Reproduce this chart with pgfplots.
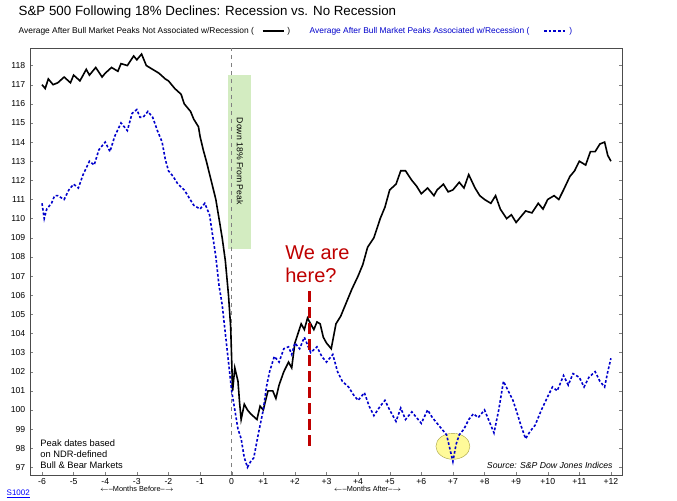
\documentclass[border=0pt]{standalone}
\usepackage{pgfplots}
\pgfplotsset{compat=1.18}
\usepackage{fontspec}
\setmainfont{Liberation Sans}
\begin{document}
\begin{tikzpicture}
\useasboundingbox (0,0) rectangle (507.75pt,375pt);
\fill[white] (0,0) rectangle (507.75pt,375pt);
\node[anchor=west,font=\fontsize{10}{12}\selectfont] at (10.5pt,366pt) {S\&P 500 Following 18\% Declines: Recession vs. No Recession};
\node[anchor=west,font=\fontsize{6.3}{8}\selectfont] at (10.5pt,351.75pt) {Average After Bull Market Peaks Not Associated w/Recession (};
\draw[black,line width=1.2pt] (197pt,351.75pt)--(213pt,351.75pt);
\node[anchor=west,font=\fontsize{6.3}{8}\selectfont] at (212pt,351.75pt) {)};
\node[anchor=west,font=\fontsize{6.3}{8}\selectfont,blue!80!black] at (228.75pt,351.75pt) {Average After Bull Market Peaks Associated w/Recession (};
\draw[blue!80!black,line width=1.2pt,dash pattern=on 2pt off 1.5pt] (408pt,351.75pt)--(424pt,351.75pt);
\node[anchor=west,font=\fontsize{6.3}{8}\selectfont,blue!80!black] at (423.5pt,351.75pt) {)};
\begin{axis}[at={(22.5pt,18.75pt)},anchor=south west,scale only axis,
 width=444pt,height=320pt,
 xmin=-6.38,xmax=12.35,ymin=96.6,ymax=118.9,
 xtick={-6,-5,...,12},
 xticklabels={-6,-5,-4,-3,-2,-1,0,+1,+2,+3,+4,+5,+6,+7,+8,+9,+10,+11,+12},
 ytick={97,98,...,118},
 yticklabel pos=left,
 tick label style={font=\fontsize{6.5}{8}\selectfont},
 xticklabel style={yshift=1pt},
 /pgf/number format/assume math mode=true,
 xtick pos=bottom, tick align=inside,
 major tick length=2pt,
 axis line style={black!70},
 clip=false]
\fill[green!40!olive!30,opacity=0.8] (axis cs:-0.1,108.4) rectangle (axis cs:0.62,117.5);
\node[rotate=-90,font=\fontsize{6.5}{8}\selectfont] at (axis cs:0.26,113.0) {Down 18\% From Peak};
\draw[gray,dashed] (axis cs:0,96.6)--(axis cs:0,118.9);
\fill[yellow!40] (axis cs:7.0,98.1) ellipse [x radius=12.75pt, y radius=9.75pt];
\draw[yellow!60!black,line width=0.3pt] (axis cs:7.0,98.1) ellipse [x radius=12.75pt, y radius=9.75pt];
\addplot[black,line width=1.2pt] coordinates {
(-6,117.0)(-5.9,116.8)(-5.8,117.3)(-5.65,117.0)(-5.5,117.1)(-5.3,117.4)(-5.1,117.1)(-5,117.5)(-4.8,117.2)(-4.6,117.8)(-4.5,117.5)(-4.3,117.9)(-4.1,117.4)(-4,117.6)(-3.8,117.9)(-3.6,117.7)(-3.5,118.1)(-3.3,118.0)(-3.1,118.5)(-3,118.3)(-2.85,118.6)(-2.7,118.0)(-2.5,117.8)(-2.3,117.6)(-2.1,117.3)(-2,117.2)(-1.8,116.8)(-1.6,116.5)(-1.5,116.0)(-1.3,115.6)(-1.2,115.2)(-1.05,114.8)(-1,114.3)(-0.9,113.6)(-0.8,113.0)(-0.65,112.0)(-0.5,111.0)(-0.4,110.0)(-0.3,109.0)(-0.2,107.8)(-0.1,106.0)(-0.03,104.3)(0.03,101.0)(0.1,102.2)(0.2,101.5)(0.25,100.4)(0.3,99.5)(0.4,100.3)(0.5,100.0)(0.6,99.8)(0.8,99.5)(0.9,100.2)(1,100.0)(1.15,101.0)(1.3,101.0)(1.4,100.6)(1.5,101.3)(1.65,102.0)(1.8,102.5)(1.9,102.2)(2,103.5)(2.1,104.0)(2.2,104.5)(2.3,104.2)(2.4,104.8)(2.5,104.5)(2.6,104.2)(2.7,104.6)(2.8,104.5)(2.9,103.8)(3,103.5)(3.15,103.2)(3.3,104.5)(3.45,104.9)(3.6,105.5)(3.8,106.3)(4,107.0)(4.15,107.6)(4.3,108.5)(4.5,109.0)(4.7,110.0)(4.85,110.6)(5,111.5)(5.2,111.8)(5.35,112.5)(5.5,112.5)(5.7,112.0)(5.85,111.7)(6,111.3)(6.2,111.6)(6.4,111.2)(6.5,111.5)(6.7,111.8)(6.85,111.4)(7,111.5)(7.2,111.9)(7.35,111.6)(7.5,112.3)(7.7,111.6)(7.85,111.2)(8,111.0)(8.2,110.8)(8.35,111.2)(8.5,110.5)(8.7,110.0)(8.85,110.2)(9,109.8)(9.15,110.1)(9.3,110.4)(9.5,110.3)(9.7,110.8)(9.85,110.5)(10,111.0)(10.2,111.2)(10.35,111.0)(10.5,111.5)(10.7,112.2)(10.85,112.5)(11,113.0)(11.2,112.8)(11.35,113.5)(11.5,113.5)(11.65,113.9)(11.8,114.0)(11.9,113.3)(12,113.0)};
\addplot[blue!80!black,line width=1.2pt,dash pattern=on 2pt off 1.5pt] coordinates {
(-6,110.8)(-5.93,110.0)(-5.85,110.5)(-5.7,110.8)(-5.6,111.2)(-5.5,111.2)(-5.3,111.0)(-5.15,111.5)(-5,111.8)(-4.85,111.6)(-4.7,112.3)(-4.5,113.0)(-4.35,112.8)(-4.2,113.6)(-4,114.0)(-3.85,113.5)(-3.7,114.3)(-3.5,115.0)(-3.3,114.6)(-3.15,115.5)(-3,115.7)(-2.9,115.3)(-2.8,115.3)(-2.65,115.6)(-2.5,115.3)(-2.35,114.6)(-2.2,114.0)(-2.1,113.1)(-2,112.5)(-1.85,112.2)(-1.7,111.8)(-1.5,111.5)(-1.35,111.1)(-1.2,110.7)(-1,110.5)(-0.85,110.8)(-0.7,110.2)(-0.5,108.0)(-0.4,106.5)(-0.3,105.5)(-0.2,104.0)(-0.1,102.5)(0,101.0)(0.1,100.0)(0.2,99.0)(0.3,98.5)(0.4,97.5)(0.5,97.0)(0.6,97.3)(0.7,97.5)(0.85,98.8)(1,100.0)(1.1,101.2)(1.2,102.0)(1.35,102.8)(1.5,102.5)(1.65,103.2)(1.8,103.3)(1.9,102.9)(2,103.5)(2.15,103.2)(2.3,103.8)(2.4,103.4)(2.5,103.0)(2.7,103.3)(2.85,102.8)(3,102.5)(3.2,102.9)(3.35,102.0)(3.5,101.5)(3.7,101.2)(3.85,100.8)(4,100.5)(4.2,100.9)(4.35,100.2)(4.5,99.7)(4.7,100.2)(4.85,100.5)(5,100.0)(5.2,99.4)(5.35,100.1)(5.5,99.5)(5.7,99.9)(5.85,99.6)(6,99.3)(6.2,100.0)(6.35,99.6)(6.5,99.3)(6.65,99.0)(6.8,98.7)(6.9,98.0)(7,97.3)(7.1,98.2)(7.2,98.7)(7.35,99.0)(7.5,99.5)(7.65,99.8)(7.8,99.6)(8,100.0)(8.15,99.4)(8.3,98.8)(8.45,100.0)(8.6,101.5)(8.75,101.0)(8.9,100.5)(9,100.0)(9.15,99.2)(9.3,98.5)(9.45,98.9)(9.6,99.2)(9.8,100.0)(10,100.7)(10.15,101.2)(10.3,101.0)(10.5,101.8)(10.65,101.3)(10.8,101.9)(11,101.7)(11.15,101.2)(11.3,101.7)(11.5,102.0)(11.65,101.5)(11.8,101.2)(11.9,102.0)(12,102.7)};
\draw[red!75!black,line width=2.2pt,dash pattern=on 8pt off 4pt] (axis cs:2.45,106.2)--(axis cs:2.45,97.9);
\node[red!75!black,align=left,font=\fontsize{15}{17}\selectfont,anchor=west] at (axis cs:1.55,107.6) {We are\\here?};
\node[align=left,anchor=south west,font=\fontsize{7}{8}\selectfont] at (axis cs:-6.2,96.7) {Peak dates based\\on NDR-defined\\Bull \& Bear Markets};
\node[anchor=south east,font=\itshape\fontsize{6.5}{8}\selectfont] at (axis cs:12.2,96.7) {Source: S\&P Dow Jones Indices};
\node[font=\fontsize{5.5}{7}\selectfont] at (axis cs:-3,95.85) {$\leftarrow$--Months Before--$\rightarrow$};
\node[font=\fontsize{5.5}{7}\selectfont] at (axis cs:4.3,95.85) {$\leftarrow$--Months After--$\rightarrow$};
\end{axis}
\begin{axis}[at={(22.5pt,18.75pt)},anchor=south west,scale only axis,
 width=444pt,height=320pt,
 xmin=-6.38,xmax=12.35,ymin=96.6,ymax=118.9,
 ytick={97,98,...,118},xtick=\empty,
 yticklabel pos=right,axis lines=none,
 tick label style={font=\fontsize{6.5}{8}\selectfont},
 /pgf/number format/assume math mode=true]
\addplot[draw=none] coordinates {(0,100)};
\end{axis}
\node[anchor=west,blue,font=\fontsize{6}{7}\selectfont] at (1.5pt,4.5pt) {\underline{S1002}};
\end{tikzpicture}
\end{document}
